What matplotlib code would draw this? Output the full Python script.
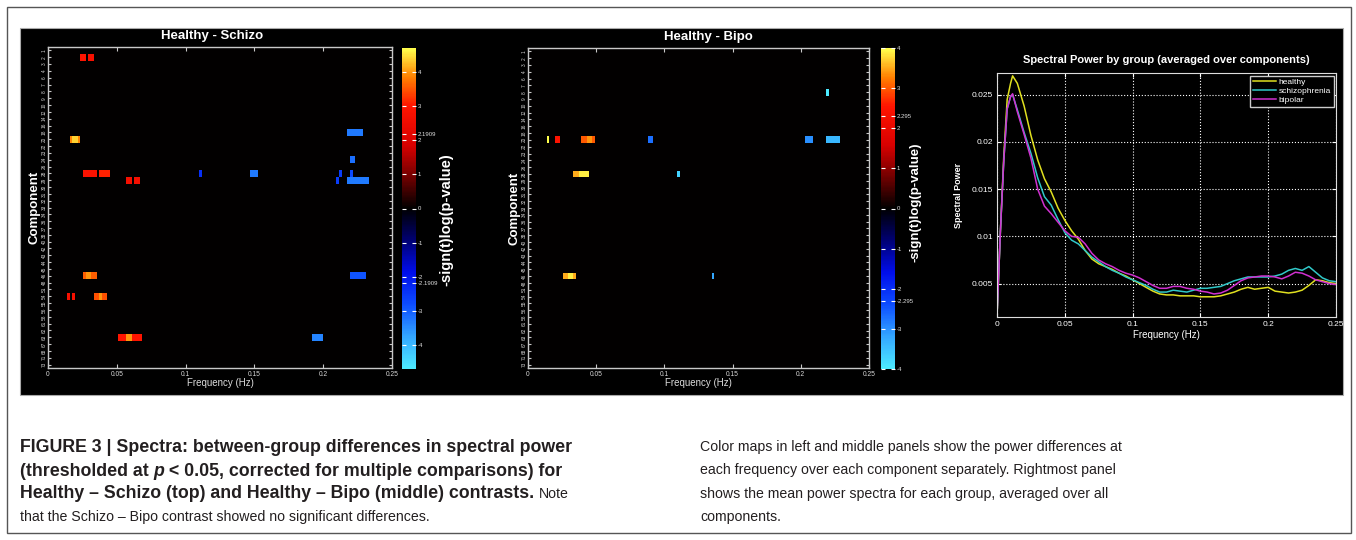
import numpy as np
import matplotlib
matplotlib.use("Agg")
import matplotlib.pyplot as plt
from matplotlib.colors import LinearSegmentedColormap
from matplotlib.patches import Rectangle
from matplotlib import font_manager

W, H = 1356, 540

# component numbers shown on the heatmap rows
components = [1, 2, 3, 4, 6, 7, 8, 9, 10, 12, 14, 16, 18, 20, 22, 23, 24, 26, 28,
              29, 30, 31, 32, 33, 34, 36, 37, 38, 40, 42, 43, 44, 45, 46, 48, 51,
              54, 55, 56, 58, 61, 62, 63, 67, 68, 71, 73]
n_freq = 128
f_max = 0.25
freq_ticks = [0, 0.05, 0.1, 0.15, 0.2, 0.25]
freq_labels = ["0", "0.05", "0.1", "0.15", "0.2", "0.25"]

# Healthy - Schizo significant cells: row index, first bin, last bin, value
hs_row = [1, 1, 13, 13, 18, 18, 19, 19, 18, 18, 12, 16, 18, 19, 19, 18, 33, 33, 33, 36, 36, 36, 36, 42, 42, 42]
hs_start = [12, 15, 8, 9, 13, 19, 29, 32, 56, 75, 111, 112, 108, 107, 111, 112, 112, 13, 14, 7, 9, 17, 19, 26, 29, 98]
hs_end = [13, 16, 11, 10, 17, 22, 30, 33, 56, 77, 116, 113, 108, 107, 118, 112, 117, 17, 15, 7, 9, 21, 19, 34, 30, 101]
hs_val = [3.0, 2.8, 3.9, 4.4, 2.9, 3.1, 2.7, 2.7, -2.4, -3.3, -3.3, -3.2, -2.6, -2.6, -3.3, -2.8,
          -2.9, 3.6, 4.0, 2.8, 2.8, 3.5, 4.0, 3.0, 4.0, -3.4]
hs_vmax = 4.72
hs_ticks = [4, 3, 2.1909, 2, 1, 0, -1, -2, -2.1909, -3, -4]

# Healthy - Bipo significant cells
hb_row = [6, 13, 13, 13, 13, 13, 13, 13, 18, 18, 18, 33, 33, 33]
hb_start = [112, 7, 10, 20, 22, 45, 104, 112, 17, 19, 56, 13, 15, 69]
hb_end = [112, 7, 11, 24, 23, 46, 106, 116, 18, 22, 56, 17, 16, 69]
hb_val = [-4.3, 4.0, 2.5, 3.0, 3.4, -2.7, -3.0, -3.4, 3.5, 3.9, -3.7, 3.5, 3.9, -3.2]
hb_vmax = 4.0
hb_ticks = [4, 3, 2.295, 2, 1, 0, -1, -2, -2.295, -3, -4]

# mean spectra per group
freq = [0, 0.0025, 0.005, 0.0075, 0.01, 0.0115, 0.015, 0.02, 0.025, 0.03, 0.035, 0.04,
        0.045, 0.05, 0.055, 0.06, 0.065, 0.07, 0.075, 0.08, 0.085, 0.09, 0.095, 0.1,
        0.105, 0.11, 0.115, 0.12, 0.125, 0.13, 0.135, 0.14, 0.145, 0.15, 0.155, 0.16,
        0.165, 0.17, 0.175, 0.18, 0.185, 0.19, 0.195, 0.2, 0.205, 0.21, 0.215, 0.22,
        0.225, 0.23, 0.235, 0.24, 0.245, 0.25]
healthy = [0.0015, 0.0105, 0.0185, 0.0245, 0.0262, 0.0270, 0.0262, 0.0238, 0.0207, 0.0181,
           0.0161, 0.0147, 0.0130, 0.0117, 0.0106, 0.0097, 0.0085, 0.0076, 0.0071, 0.0068,
           0.0065, 0.0061, 0.0058, 0.0054, 0.0050, 0.0046, 0.0042, 0.0039, 0.0038, 0.0038,
           0.0037, 0.0037, 0.0037, 0.0036, 0.0036, 0.0036, 0.0037, 0.0039, 0.0041, 0.0044,
           0.0046, 0.0044, 0.0045, 0.0046, 0.0042, 0.0041, 0.0040, 0.0041, 0.0043, 0.0048,
           0.0054, 0.0053, 0.0051, 0.0050]
schizo = [0.0015, 0.0105, 0.0180, 0.0235, 0.0248, 0.0250, 0.0234, 0.0210, 0.0188, 0.0162,
          0.0142, 0.0133, 0.0118, 0.0104, 0.0096, 0.0092, 0.0085, 0.0078, 0.0073, 0.0068,
          0.0064, 0.0061, 0.0057, 0.0054, 0.0051, 0.0048, 0.0044, 0.0041, 0.0041, 0.0043,
          0.0042, 0.0041, 0.0043, 0.0045, 0.0045, 0.0046, 0.0047, 0.0050, 0.0053, 0.0055,
          0.0057, 0.0057, 0.0057, 0.0057, 0.0058, 0.0060, 0.0064, 0.0066, 0.0064, 0.0068,
          0.0062, 0.0056, 0.0053, 0.0052]
bipolar = [0.0015, 0.0105, 0.0180, 0.0235, 0.0248, 0.0251, 0.0232, 0.0208, 0.0183, 0.0150,
           0.0132, 0.0124, 0.0115, 0.0106, 0.0100, 0.0099, 0.0092, 0.0082, 0.0075, 0.0071,
           0.0068, 0.0064, 0.0061, 0.0059, 0.0056, 0.0052, 0.0048, 0.0045, 0.0045, 0.0047,
           0.0047, 0.0045, 0.0044, 0.0042, 0.0041, 0.0039, 0.0040, 0.0043, 0.0048, 0.0053,
           0.0056, 0.0057, 0.0058, 0.0058, 0.0057, 0.0055, 0.0058, 0.0062, 0.0061, 0.0058,
           0.0054, 0.0052, 0.0050, 0.0049]

cap_left = [
    [("FIGURE 3 | Spectra: between-group differences in spectral power", "bold", "normal")],
    [("(thresholded at ", "bold", "normal"), ("p", "bold", "italic"),
     (" < 0.05, corrected for multiple comparisons) for", "bold", "normal")],
    [("Healthy \u2013 Schizo (top) and Healthy \u2013 Bipo (middle) contrasts. ", "bold", "normal"),
     ("Note", "normal", "normal")],
    [("that the Schizo \u2013 Bipo contrast showed no significant differences.", "normal", "normal")],
]
cap_right = [
    "Color maps in left and middle panels show the power differences at",
    "each frequency over each component separately. Rightmost panel",
    "shows the mean power spectra for each group, averaged over all",
    "components.",
]

available = {f.name for f in font_manager.fontManager.ttflist}
plot_font = "Liberation Sans" if "Liberation Sans" in available else "DejaVu Sans"
narrow = "Liberation Sans Narrow" if "Liberation Sans Narrow" in available else plot_font
plt.rcParams["font.family"] = plot_font

cmap = LinearSegmentedColormap.from_list("coldhot", [
    (0.0, (0.3, 0.92, 1.0)), (0.1, (0.2, 0.65, 1.0)), (0.2, (0.05, 0.3, 1.0)),
    (0.3, (0.0, 0.05, 0.92)), (0.4, (0.0, 0.0, 0.45)), (0.5, (0.0, 0.0, 0.0)),
    (0.6, (0.45, 0.0, 0.0)), (0.7, (0.85, 0.0, 0.0)), (0.82, (1.0, 0.08, 0.0)),
    (0.91, (1.0, 0.5, 0.0)), (1.0, (1.0, 1.0, 0.3))])


def px(x0, y0, x1, y1):
    return [x0 / W, 1 - y1 / H, (x1 - x0) / W, (y1 - y0) / H]


fig = plt.figure(figsize=(W / 100, H / 100), dpi=100)
fig.patches.append(Rectangle((7 / W, 1 - 533 / H), 1344 / W, 526 / H, transform=fig.transFigure,
                             fill=False, ec="#555555", lw=1, zorder=-2))
fig.patches.append(Rectangle((20 / W, 1 - 395 / H), 1323 / W, 367 / H, transform=fig.transFigure,
                             fc="black", ec="#aaaaaa", lw=0.8, zorder=-1))

frame = "#c8c8c8"


def heatmap(box, cbox, rows, starts, ends, vals, vmax, cticks, title, tx, ty, lab_x, lab_y, lab_fs):
    Z = np.zeros((len(components), n_freq))
    for r, s, e, v in zip(rows, starts, ends, vals):
        Z[r, s:e + 1] = v
    ax = fig.add_axes(px(*box))
    ax.set_facecolor("black")
    im = ax.imshow(Z, aspect="auto", cmap=cmap, vmin=-vmax, vmax=vmax, interpolation="nearest",
                   extent=[0, f_max, len(components) - 0.5, -0.5])
    ax.set_xlim(0, f_max)
    ax.set_xticks(freq_ticks)
    ax.set_xticklabels(freq_labels)
    ax.set_yticks(range(len(components)))
    ax.set_yticklabels([str(c) for c in components], rotation=90, va="center")
    ax.tick_params(axis="x", labelsize=4.8, colors=frame, labelcolor="#d8d8d8", direction="in",
                   length=3, top=True, pad=2)
    ax.tick_params(axis="y", labelsize=3.4, colors=frame, labelcolor="#d8d8d8", direction="in",
                   length=2.5, right=True, pad=1)
    for sp in ax.spines.values():
        sp.set_color(frame)
        sp.set_linewidth(1)
    ax.set_xlabel("Frequency (Hz)", color="#dddddd", fontsize=7, labelpad=0)
    ax.set_ylabel("Component", color="white", fontsize=9.5, weight="bold", labelpad=1)
    fig.text(tx / W, 1 - ty / H, title, color="white", fontsize=9.5, weight="bold",
             ha="center", va="center")
    cax = fig.add_axes(px(*cbox))
    cb = fig.colorbar(im, cax=cax, ticks=cticks)
    cb.ax.set_yticklabels([f"{t:g}" for t in cticks])
    cb.outline.set_visible(False)
    cax.tick_params(axis="y", direction="in", length=3, color="white", left=True, right=True,
                    labelsize=4.3, labelcolor="#dddddd", pad=1)
    fig.text(lab_x / W, 1 - lab_y / H, "-sign(t)log(p-value)", color="white", fontsize=lab_fs,
             weight="bold", rotation=90, ha="center", va="center")


heatmap((48, 47, 392, 368), (402, 48, 416, 369), hs_row, hs_start, hs_end, hs_val, hs_vmax,
        hs_ticks, "Healthy - Schizo", 212, 36, 446, 220, 10.5)
heatmap((528, 48, 869, 368), (881, 48, 895, 369), hb_row, hb_start, hb_end, hb_val, hb_vmax,
        hb_ticks, "Healthy - Bipo", 708, 37, 915, 202, 9.5)

# mean spectra
ax3 = fig.add_axes(px(997, 73, 1336, 317))
ax3.set_facecolor("black")
ax3.plot(freq, healthy, color="#e0e020", lw=1.1, label="healthy")
ax3.plot(freq, schizo, color="#30c8c8", lw=1.1, label="schizophrenia")
ax3.plot(freq, bipolar, color="#d030d0", lw=1.1, label="bipolar")
ax3.set_xlim(0, 0.25)
ax3.set_ylim(0.00146, 0.0273)
ax3.set_xticks(freq_ticks)
ax3.set_xticklabels(freq_labels)
ax3.set_yticks([0.005, 0.01, 0.015, 0.02, 0.025])
ax3.set_yticklabels(["0.005", "0.01", "0.015", "0.02", "0.025"])
ax3.grid(True, color="white", ls=":", lw=0.8)
ax3.tick_params(colors="white", labelsize=6, direction="in", length=3, top=True, right=True, pad=3)
for sp in ax3.spines.values():
    sp.set_color("#dddddd")
ax3.set_xlabel("Frequency (Hz)", color="white", fontsize=7, labelpad=1)
ax3.set_ylabel("Spectral Power", color="white", fontsize=6.5, weight="bold", labelpad=6)
ax3.set_title("Spectral Power by group (averaged over components)", color="white",
              fontsize=8, weight="bold", pad=7)
leg = ax3.legend(loc="upper right", fontsize=6, facecolor="black", edgecolor="#cccccc",
                 fancybox=False, framealpha=1, handlelength=2.8, borderpad=0.3,
                 labelspacing=0.15, handletextpad=0.3, borderaxespad=0.3)
for t in leg.get_texts():
    t.set_color("white")

# caption
renderer = fig.canvas.get_renderer()


def fit_size(text, family, weight, target):
    t = fig.text(0, 0, text, fontsize=10, family=family, weight=weight)
    w = t.get_window_extent(renderer).width
    t.remove()
    return 10 * target / w


bold_fs = fit_size(cap_left[0][0][0], plot_font, "bold", 553)
reg_fs = fit_size(cap_right[0], narrow, "normal", 423)

ink = "#231f20"
for i, pieces in enumerate(cap_left):
    x = 20
    y = 448 + i * 23
    for text, weight, style in pieces:
        fam = plot_font if weight == "bold" else narrow
        fs = bold_fs if weight == "bold" else reg_fs
        t = fig.text(x / W, 1 - y / H, text, fontsize=fs, family=fam, weight=weight,
                     style=style, color=ink, va="center")
        x += t.get_window_extent(renderer).width

for i, text in enumerate(cap_right):
    fig.text(700 / W, 1 - (447 + i * 23.3) / H, text, fontsize=reg_fs, family=narrow,
             color=ink, va="center")

fig.savefig("out.png", dpi=100)
